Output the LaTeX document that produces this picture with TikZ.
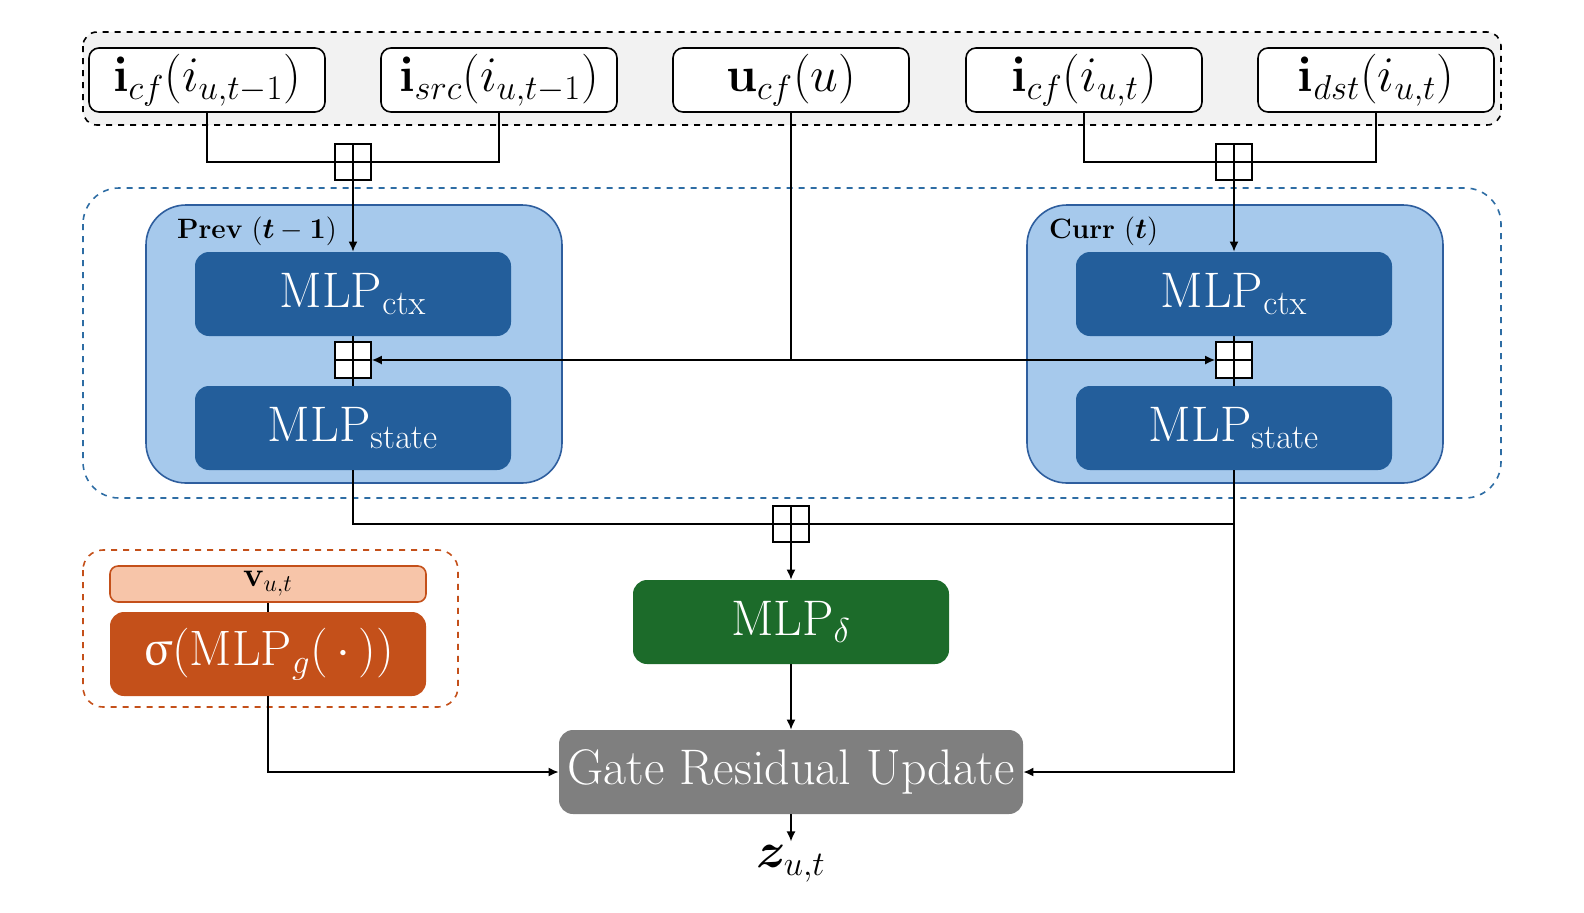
\documentclass[tikz,border=0pt]{standalone}
\usepackage{amsmath,bm}
\usepackage[Euler]{upgreek}
\usetikzlibrary{arrows.meta,positioning}

\definecolor{topgray}{HTML}{F2F2F2}
\definecolor{boxblue}{HTML}{A6C9EC}
\definecolor{edgeblue}{HTML}{2E5E9E}
\definecolor{mlpblue}{HTML}{235E9B}
\definecolor{dashblue}{HTML}{2E6DA4}
\definecolor{deltagreen}{HTML}{1C6B2A}
\definecolor{gateorange}{HTML}{C4501A}
\definecolor{paleorange}{HTML}{F7C5A9}
\definecolor{gategray}{HTML}{7F7F7F}

\begin{document}
\begin{tikzpicture}[
  x=0.5pt, y=-0.5pt,
  inbox/.style={draw, thick, rounded corners=5pt, fill=white, minimum width=118pt, minimum height=32pt, inner sep=0pt, font=\fontsize{27}{30}\selectfont},
  stage/.style={draw=edgeblue, thick, fill=boxblue, rounded corners=20pt, minimum width=208pt, minimum height=139pt},
  mlp/.style={fill=mlpblue, rounded corners=7pt, minimum width=158pt, minimum height=42pt, inner sep=0pt, text=white, font=\fontsize{25}{28}\selectfont},
  cat/.style={draw, thick, fill=white, minimum size=18pt, inner sep=0pt,
    path picture={\draw[thick] (path picture bounding box.north) -- (path picture bounding box.south)
      (path picture bounding box.west) -- (path picture bounding box.east);}},
  link/.style={thick},
  arrow/.style={thick, -{Latex[length=5pt,width=4.5pt]}}
]
\useasboundingbox (0,0) rectangle (1584,912);

% groups
\draw[thick, dashed, fill=topgray, rounded corners=7pt] (83,32) rectangle (1501,125);
\draw[thick, dashed, dashblue, rounded corners=18pt] (83,188) rectangle (1501,498);
\draw[thick, dashed, gateorange, rounded corners=10pt] (83,550) rectangle (458,707);

% inputs
\node[inbox] (icfp) at (207,80) {$\mathbf{i}_{cf}(i_{u,t-1})$};
\node[inbox] (isrc) at (499,80) {$\mathbf{i}_{src}(i_{u,t-1})$};
\node[inbox] (ucf)  at (791,80) {$\mathbf{u}_{cf}(u)$};
\node[inbox] (icfc) at (1084,80) {$\mathbf{i}_{cf}(i_{u,t})$};
\node[inbox] (idst) at (1376,80) {$\mathbf{i}_{dst}(i_{u,t})$};

% encoders
\node[stage] (prev) at (354,344) {};
\node[stage] (curr) at (1235,344) {};
\node[anchor=west, font=\fontsize{14}{16}\selectfont] (prevlbl) at (170,231) {\textbf{Prev} $(\bm{t}-\mathbf{1})$};
\node[anchor=west, font=\fontsize{14}{16}\selectfont] (currlbl) at (1042,231) {\textbf{Curr} $(\bm{t})$};

\node[mlp] (prevctx)   at (353,294) {MLP$_{\mathrm{ctx}}$};
\node[mlp] (prevstate) at (353,428) {MLP$_{\mathrm{state}}$};
\node[mlp] (currctx)   at (1234,294) {MLP$_{\mathrm{ctx}}$};
\node[mlp] (currstate) at (1234,428) {MLP$_{\mathrm{state}}$};

\node[cat] (catp)  at (353,162) {};
\node[cat] (catc)  at (1234,162) {};
\node[cat] (catpm) at (353,360) {};
\node[cat] (catcm) at (1234,360) {};
\node[cat] (catb)  at (791,524) {};
\coordinate (hub) at (791,360);

% gate
\node[draw=gateorange, thick, fill=paleorange, rounded corners=4pt, minimum width=158pt, minimum height=18pt, inner sep=0pt,
  font=\fontsize{17}{19}\selectfont] (vbox) at (268,584) {$\mathbf{v}_{u,t}$};
\node[mlp, fill=gateorange] (sigma) at (268,654) {$\upsigma(\mathrm{MLP}_g(\,\cdot\,))$};

\node[mlp, fill=deltagreen] (delta) at (791,622) {MLP$_{\delta}$};
\node[mlp, fill=gategray, minimum width=232pt] (gate) at (791,772) {Gate Residual Update};
\node[font=\fontsize{25}{28}\selectfont, inner sep=2pt] (zout) at (791,864) {$\bm{z}_{u,t}$};

% connectors
\draw[link] (icfp.south) |- (catp.west);
\draw[link] (isrc.south) |- (catp.east);
\draw[link] (icfc.south) |- (catc.west);
\draw[link] (idst.south) |- (catc.east);
\draw[arrow] (catp.south) -- (prevctx.north);
\draw[arrow] (catc.south) -- (currctx.north);

\draw[link] (prevctx.south) -- (catpm.north);
\draw[link] (catpm.south) -- (prevstate.north);
\draw[link] (currctx.south) -- (catcm.north);
\draw[link] (catcm.south) -- (currstate.north);

\draw[link] (ucf.south) -- (hub);
\draw[arrow] (hub) -- (catpm.east);
\draw[arrow] (hub) -- (catcm.west);

\draw[link] (prevstate.south) |- (catb.west);
\draw[link] (currstate.south) |- (catb.east);
\draw[arrow] (currstate.south) |- (gate.east);
\draw[arrow] (catb.south) -- (delta.north);
\draw[arrow] (delta.south) -- (gate.north);

\draw[link] (vbox.south) -- (sigma.north);
\draw[arrow] (sigma.south) |- (gate.west);
\draw[arrow] (gate.south) -- (zout.north);

\end{tikzpicture}
\end{document}
